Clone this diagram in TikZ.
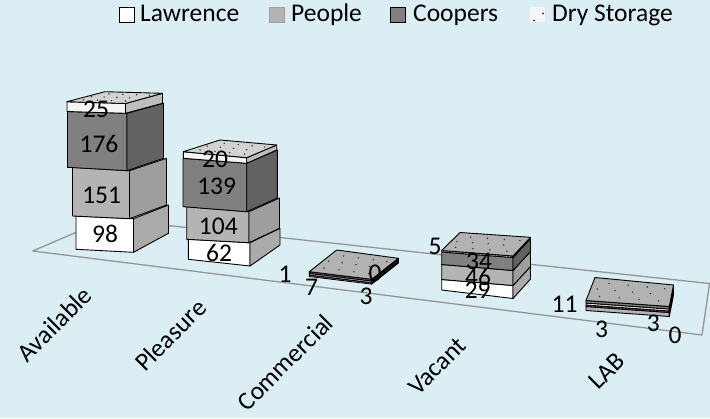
\documentclass[tikz,border=0pt]{standalone}
\usepackage{fontspec}
\setmainfont{Carlito}
\usetikzlibrary{calc}
\definecolor{bgblue}{RGB}{218,238,243}
\definecolor{floorgray}{RGB}{150,150,150}
\definecolor{whiteF}{RGB}{255,255,255}
\definecolor{whiteS}{RGB}{170,170,170}
\definecolor{peopleF}{RGB}{180,180,180}
\definecolor{peopleS}{RGB}{158,158,158}
\definecolor{coopF}{RGB}{128,128,128}
\definecolor{coopS}{RGB}{98,98,98}
\definecolor{dryF}{RGB}{245,245,245}
\definecolor{dryS}{RGB}{190,190,190}
\definecolor{topLight}{RGB}{210,210,210}
\definecolor{topMid}{RGB}{178,178,178}
\definecolor{dotc}{RGB}{40,40,40}
\newcommand{\setcols}[2]{\def\curF{#1}\def\curS{#2}}
% xL xR xS, bottom yL yR yS, top yL yR yS
\newcommand{\boxseg}[9]{%
  \filldraw[edge, fill=\curF] (#1,#4) -- (#2,#5) -- (#2,#8) -- (#1,#7) -- cycle;
  \filldraw[edge, fill=\curS] (#2,#5) -- (#3,#6) -- (#3,#9) -- (#2,#8) -- cycle;
}
% FL, FR, BR, BL ; fill colour in \curT
\newcommand{\topbox}[8]{%
  \coordinate (tFL) at (#1,#2); \coordinate (tFR) at (#3,#4);
  \coordinate (tBR) at (#5,#6); \coordinate (tBL) at (#7,#8);
  \filldraw[edge, fill=\curT] (tFL) -- (tFR) -- (tBR) -- (tBL) -- cycle;
  \foreach \uu/\vv in {0.14/0.22, 0.38/0.22, 0.62/0.22, 0.86/0.22, 0.08/0.52, 0.3/0.52, 0.52/0.52, 0.74/0.52, 0.2/0.8, 0.44/0.8, 0.68/0.8, 0.9/0.8} {
    \coordinate (tmpf) at ($(tFL)!\uu!(tFR)$);
    \coordinate (tmpb) at ($(tBL)!\uu!(tBR)$);
    \fill[dotc] ($(tmpf)!\vv!(tmpb)$) circle (0.8pt);
  }
}
\begin{document}
\begin{tikzpicture}[x=1pt,y=-1pt,
  edge/.style={draw=black, line width=0.9pt, line join=round},
  lbl/.style={font=\fontsize{25.5}{30}\selectfont, inner sep=0pt},
  legbox/.style={line width=0.8pt}]
\useasboundingbox (0,0) rectangle (710,418);
\fill[bgblue] (0,0) rectangle (710,418);

% floor
\coordinate (fFL) at (32.7,251);
\coordinate (fBL) at (107,219);
\coordinate (fBR) at (709.5,283.5);
\coordinate (fFR) at (702,335);
\draw[floorgray, line width=1.3pt, line join=round] (fFL) -- (fBL) -- (fBR) -- (fFR) -- cycle;

% ---------- Available ----------
\setcols{whiteF}{whiteS}   \boxseg{76}{133.5}{168.5}{249.3}{252.3}{233.3}{216}{218.7}{205}
\setcols{peopleF}{peopleS} \boxseg{72.5}{129.5}{166.5}{216}{218.7}{205}{167.3}{170.7}{158.3}
\setcols{coopF}{coopS}     \boxseg{67.5}{127}{163.5}{167.3}{170.7}{158.3}{111.5}{113.3}{103.3}
\setcols{dryF}{dryS}       \boxseg{67}{125.5}{162.5}{111.5}{113.3}{103.3}{101.7}{103.5}{93.3}
\def\curT{topLight}        \topbox{67}{101.7}{125.5}{103.5}{162.5}{93.3}{105}{91.7}

% ---------- Pleasure ----------
\setcols{whiteF}{whiteS}   \boxseg{188.3}{250}{280}{259.3}{266}{245}{239.3}{242.7}{228.3}
\setcols{peopleF}{peopleS} \boxseg{186.7}{249}{279.5}{239.3}{242.7}{228.3}{206.7}{211.7}{198}
\setcols{coopF}{coopS}     \boxseg{183}{246.7}{277.3}{206.7}{211.7}{198}{158.3}{163.3}{150}
\setcols{dryF}{dryS}       \boxseg{183.3}{246.7}{276.7}{158.3}{163.3}{150}{151.7}{157.7}{145}
\def\curT{topLight}        \topbox{183.3}{151.7}{246.7}{157.7}{276.7}{145}{220}{140}

% ---------- Commercial ----------
\setcols{whiteF}{whiteS}   \boxseg{309.3}{371.7}{398.3}{276.5}{284.1}{263.1}{275.1}{282.7}{261.7}
\setcols{peopleF}{peopleS} \boxseg{309.3}{371.7}{398.3}{275.1}{282.7}{261.7}{273.3}{280.9}{259.9}
\setcols{coopF}{coopS}     \boxseg{309.3}{371.7}{398.3}{273.3}{280.9}{259.9}{271.7}{279.3}{258.3}
\def\curT{topMid}          \topbox{309.3}{271.7}{371.7}{279.3}{398.3}{258.3}{336.7}{250}

% ---------- Vacant ----------
\setcols{whiteF}{whiteS}   \boxseg{441.7}{513}{530.5}{290}{298.5}{279}{279.5}{285.5}{266.5}
\setcols{peopleF}{peopleS} \boxseg{441.7}{513}{530.5}{279.5}{285.5}{266.5}{264.5}{270.5}{251.5}
\setcols{coopF}{coopS}     \boxseg{441.7}{513}{530.5}{264.5}{270.5}{251.5}{252}{257.5}{238.5}
\setcols{dryF}{dryS}       \boxseg{441.7}{513}{530.5}{252}{257.5}{238.5}{250.5}{256}{237.3}
\def\curT{topMid}          \topbox{441.7}{250.5}{513}{256}{530.5}{237.3}{460}{232.5}

% ---------- LAB ----------
\setcols{peopleF}{peopleS} \boxseg{586}{669.3}{673.5}{310.5}{316.5}{295}{306.5}{312.5}{291}
\setcols{coopF}{coopS}     \boxseg{586}{669.3}{673.5}{306.5}{312.5}{291}{305}{311}{289.5}
\setcols{dryF}{dryS}       \boxseg{586}{669.3}{673.5}{305}{311}{289.5}{303}{309}{287.5}
\setcols{coopF}{coopS}     \boxseg{586}{669.3}{673.5}{303}{309}{287.5}{300.5}{306.5}{285}
\def\curT{topMid}          \topbox{586}{300.5}{669.3}{306.5}{673.5}{285}{595}{277.5}

% ---------- data labels ----------
\node[lbl] (la1) at (96,109) {25};
\node[lbl] (la2) at (99,143.5) {176};
\node[lbl] (la3) at (101.7,195.7) {151};
\node[lbl] (la4) at (105,234) {98};
\node[lbl] (lp1) at (215,159.3) {20};
\node[lbl] (lp2) at (216.7,186.7) {139};
\node[lbl] (lp3) at (218.3,226.7) {104};
\node[lbl] (lp4) at (219,252.7) {62};
\node[lbl] (lc1) at (285,274) {1};
\node[lbl] (lc2) at (311.7,287.5) {7};
\node[lbl] (lc3) at (366,296) {3};
\node[lbl] (lc4) at (375,273.3) {0};
\node[lbl] (lv1) at (435,246.7) {5};
\node[lbl] (lv2) at (479,261.7) {34};
\node[lbl] (lv3) at (478,276.7) {46};
\node[lbl] (lv4) at (477.7,290.7) {29};
\node[lbl] (ll1) at (564.5,304) {11};
\node[lbl] (ll2) at (601.7,329) {3};
\node[lbl] (ll3) at (653.3,323.3) {3};
\node[lbl] (ll4) at (675,335) {0};

% ---------- category labels ----------
\node[lbl, rotate=45] (cat1) at (54.5,324) {Available};
\node[lbl, rotate=45] (cat2) at (170.5,335) {Pleasure};
\node[lbl, rotate=45] (cat3) at (285,362.5) {Commercial};
\node[lbl, rotate=45] (cat4) at (437,366) {Vacant};
\node[lbl, rotate=45] (cat5) at (607,371) {LAB};

% ---------- legend ----------
\filldraw[legbox, fill=white, draw=black] (119,7) rectangle (134,22);
\node[lbl, anchor=base west] (lg1) at (140,21.7) {Lawrence};
\filldraw[legbox, fill=peopleF, draw=peopleS] (269,7) rectangle (284,22);
\node[lbl, anchor=base west] (lg2) at (291,21.7) {People};
\filldraw[legbox, fill=coopF, draw=black] (390.5,7) rectangle (405.5,22);
\node[lbl, anchor=base west] (lg3) at (413,21.7) {Coopers};
\fill[dryF] (529.5,7) rectangle (545,22);
\fill[black] (534,20.5) circle (0.9pt);
\fill[black] (543,13.5) circle (0.9pt);
\node[lbl, anchor=base west] (lg4) at (552,21.7) {Dry Storage};
\end{tikzpicture}
\end{document}
